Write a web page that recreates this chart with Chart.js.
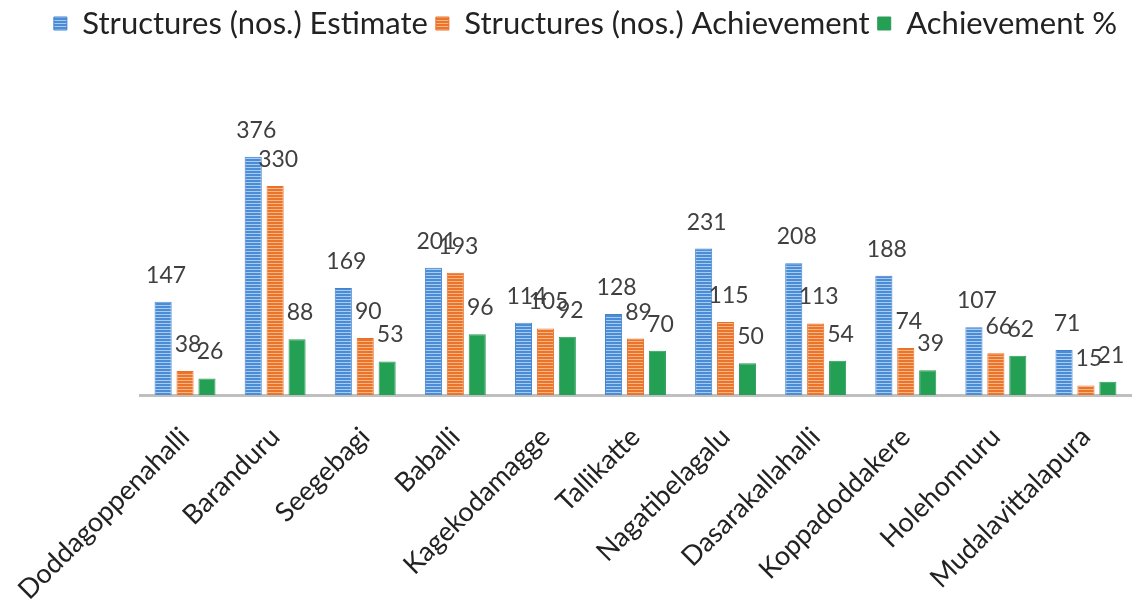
<!DOCTYPE html>
<html>
<head>
<meta charset="utf-8">
<script src="https://cdn.jsdelivr.net/npm/chart.js@4"></script>
<style>
  html, body { margin: 0; padding: 0; background: #fff; }
  #chart { display: block; }
</style>
</head>
<body>
<canvas id="chart" width="1139" height="602"></canvas>
<script>
// categories and series
const villages = ["Doddagoppenahalli", "Baranduru", "Seegebagi", "Baballi", "Kagekodamagge",
  "Tallikatte", "Nagatibelagalu", "Dasarakallahalli", "Koppadoddakere", "Holehonnuru", "Mudalavittalapura"];
const estimate = [147, 376, 169, 201, 114, 128, 231, 208, 188, 107, 71];
const achievement = [38, 330, 90, 193, 105, 89, 115, 113, 74, 66, 15];
const achievementPct = [26, 88, 53, 96, 92, 70, 50, 54, 39, 62, 21];

// horizontal stripe fill like the original
function stripes(base, line) {
  const c = document.createElement("canvas");
  c.width = 4; c.height = 3;
  const g = c.getContext("2d");
  g.fillStyle = base;
  g.fillRect(0, 0, 4, 3);
  g.fillStyle = line;
  g.fillRect(0, 2, 4, 1);
  return g.createPattern(c, "repeat");
}

const blueFill = stripes("#4a8dd6", "#a9cbef");
const orangeFill = stripes("#ec7428", "#f7b58a");

// valeurs au-dessus des barres
const valueLabels = {
  id: "valueLabels",
  afterDatasetsDraw(chart) {
    const ctx = chart.ctx;
    ctx.save();
    ctx.font = "23px Lato";
    ctx.fillStyle = "#404040";
    ctx.textAlign = "center";
    ctx.textBaseline = "bottom";
    chart.data.datasets.forEach((ds, i) => {
      chart.getDatasetMeta(i).data.forEach((bar, j) => {
        ctx.fillText(ds.data[j], bar.x + 3, bar.y - 15);
      });
    });
    ctx.restore();
  }
};

const ctx = document.getElementById("chart").getContext("2d");
new Chart(ctx, {
  type: "bar",
  data: {
    labels: villages,
    datasets: [
      { label: "Structures (nos.) Estimate", data: estimate, backgroundColor: blueFill, borderColor: "#3f83cf", borderWidth: 1 },
      { label: "Structures (nos.) Achievement", data: achievement, backgroundColor: orangeFill, borderColor: "#e8702a", borderWidth: 1 },
      { label: "Achievement %", data: achievementPct, backgroundColor: "#24a054", borderColor: "#2e9a5a", borderWidth: 1 }
    ]
  },
  options: {
    responsive: false,
    animation: false,
    layout: { padding: { top: 0, right: 8, left: 40, bottom: 0 } },
    datasets: {
      bar: { categoryPercentage: 0.73, barPercentage: 0.78 }
    },
    plugins: {
      legend: {
        position: "top",
        labels: {
          font: { family: "Lato", size: 31 },
          color: "#222",
          boxWidth: 13,
          boxHeight: 13,
          padding: 8
        }
      },
      tooltip: { enabled: false }
    },
    scales: {
      x: {
        grid: { display: false, drawTicks: false },
        border: { display: true, color: "#bfbfbf", width: 3 },
        ticks: {
          font: { family: "Lato", size: 27 },
          color: "#222",
          minRotation: 45,
          maxRotation: 45,
          padding: 26
        },
        afterFit(scale) {
          scale.height = 207;
          scale.paddingLeft = 140;
        }
      },
      y: {
        display: false,
        min: 0,
        max: 546
      }
    }
  },
  plugins: [valueLabels]
});
</script>
</body>
</html>
